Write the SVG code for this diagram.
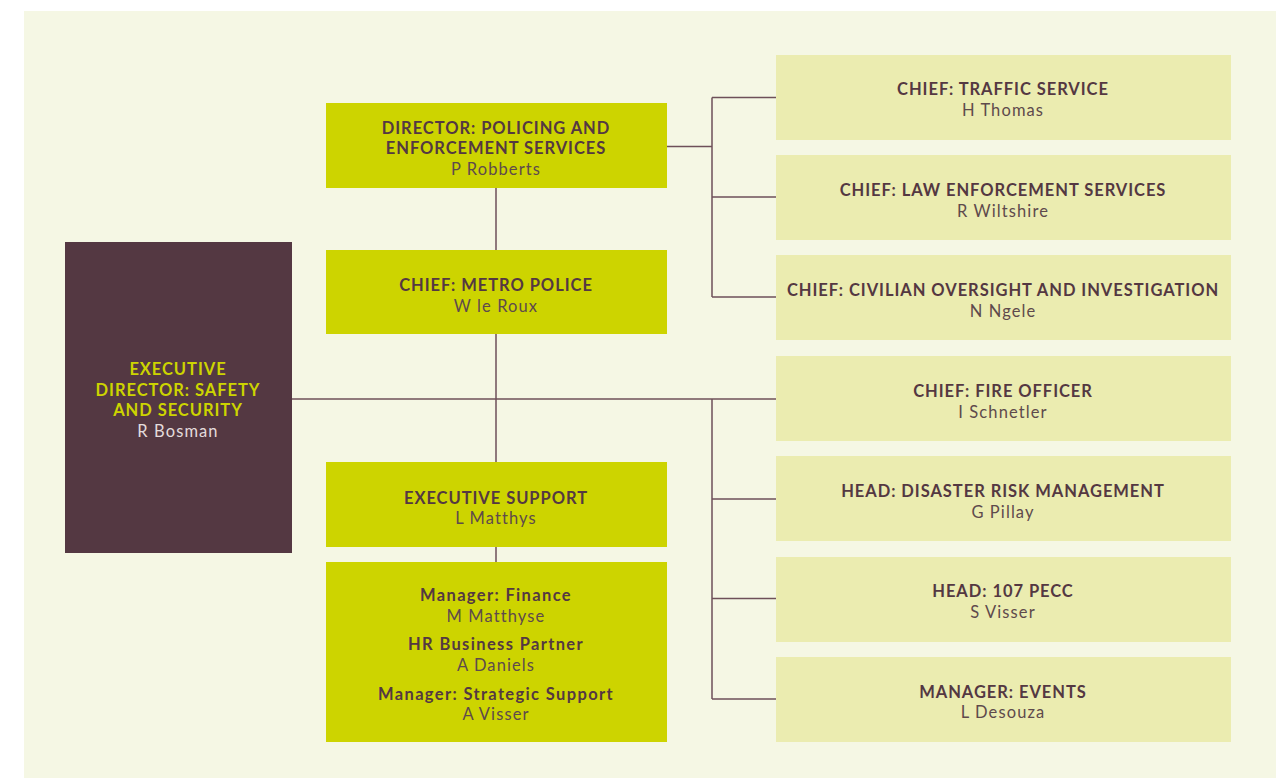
<svg xmlns="http://www.w3.org/2000/svg" width="1284" height="778" viewBox="0 0 1284 778">
<style>
.bg{fill:#f5f7e4}
.lime{fill:#cdd400}
.pale{fill:#ebecb0}
.dark{fill:#543842}
.t{font-family:Lato,"Open Sans","Liberation Sans",sans-serif;font-size:16.5px;font-weight:bold;fill:#543842;text-anchor:middle;letter-spacing:0.95px}
.n{font-family:Lato,"Open Sans","Liberation Sans",sans-serif;font-size:16.5px;fill:#5e4a4c;text-anchor:middle;letter-spacing:1.1px}
.s{font-family:Lato,"Open Sans","Liberation Sans",sans-serif;font-size:16.5px;font-weight:bold;fill:#543842;text-anchor:middle;letter-spacing:1.35px}
.tl{fill:#cdd400}
.nl{fill:#e4dcdc}
.c{stroke:#6e5059;stroke-width:1.5;fill:none}
</style>
<rect x="0" y="0" width="1284" height="778" fill="#ffffff"/>
<rect class="bg" x="24" y="11" width="1252" height="767"/>
<g id="connectors">
<path class="c" d="M291 399H776"/>
<path class="c" d="M496 188V250M496 334V462M496 547V562"/>
<path class="c" d="M667 146.5H712M712 97.5V297M712 97.5H776M712 197H776M712 297H776"/>
<path class="c" d="M712 399V699M712 499H776M712 598.5H776M712 699H776"/>
</g>
<g id="exec-director">
<rect class="dark" x="65" y="242" width="227" height="311"/>
<text class="t tl" x="178" y="375">EXECUTIVE</text>
<text class="t tl" x="178" y="395.5">DIRECTOR: SAFETY</text>
<text class="t tl" x="178" y="416">AND SECURITY</text>
<text class="n nl" x="178" y="437">R Bosman</text>
</g>
<g id="director-policing">
<rect class="lime" x="326" y="103" width="341" height="85"/>
<text class="t" x="496" y="133.5">DIRECTOR: POLICING AND</text>
<text class="t" x="496" y="154">ENFORCEMENT SERVICES</text>
<text class="n" x="496" y="175">P Robberts</text>
</g>
<g id="chief-metro">
<rect class="lime" x="326" y="250" width="341" height="84"/>
<text class="t" x="496" y="291">CHIEF: METRO POLICE</text>
<text class="n" x="496" y="312">W le Roux</text>
</g>
<g id="exec-support">
<rect class="lime" x="326" y="462" width="341" height="85"/>
<text class="t" x="496" y="503.5">EXECUTIVE SUPPORT</text>
<text class="n" x="496" y="524">L Matthys</text>
</g>
<g id="support-staff">
<rect class="lime" x="326" y="562" width="341" height="180"/>
<text class="s" x="496" y="601">Manager: Finance</text>
<text class="n" x="496" y="622">M Matthyse</text>
<text class="s" x="496" y="650">HR Business Partner</text>
<text class="n" x="496" y="671">A Daniels</text>
<text class="s" x="496" y="700">Manager: Strategic Support</text>
<text class="n" x="496" y="720">A Visser</text>
</g>
<g id="chief-traffic">
<rect class="pale" x="776" y="55" width="455" height="85"/>
<text class="t" x="1003" y="95">CHIEF: TRAFFIC SERVICE</text>
<text class="n" x="1003" y="116">H Thomas</text>
</g>
<g id="chief-law">
<rect class="pale" x="776" y="155" width="455" height="85"/>
<text class="t" x="1003" y="195.5">CHIEF: LAW ENFORCEMENT SERVICES</text>
<text class="n" x="1003" y="216.5">R Wiltshire</text>
</g>
<g id="chief-civilian">
<rect class="pale" x="776" y="255" width="455" height="85"/>
<text class="t" x="1003" y="296">CHIEF: CIVILIAN OVERSIGHT AND INVESTIGATION</text>
<text class="n" x="1003" y="316.5">N Ngele</text>
</g>
<g id="chief-fire">
<rect class="pale" x="776" y="356" width="455" height="85"/>
<text class="t" x="1003" y="397">CHIEF: FIRE OFFICER</text>
<text class="n" x="1003" y="417.5">I Schnetler</text>
</g>
<g id="head-disaster">
<rect class="pale" x="776" y="456" width="455" height="85"/>
<text class="t" x="1003" y="497">HEAD: DISASTER RISK MANAGEMENT</text>
<text class="n" x="1003" y="517.5">G Pillay</text>
</g>
<g id="head-pecc">
<rect class="pale" x="776" y="557" width="455" height="85"/>
<text class="t" x="1003" y="597">HEAD: 107 PECC</text>
<text class="n" x="1003" y="617.5">S Visser</text>
</g>
<g id="manager-events">
<rect class="pale" x="776" y="657" width="455" height="85"/>
<text class="t" x="1003" y="697.5">MANAGER: EVENTS</text>
<text class="n" x="1003" y="718">L Desouza</text>
</g>
</svg>
